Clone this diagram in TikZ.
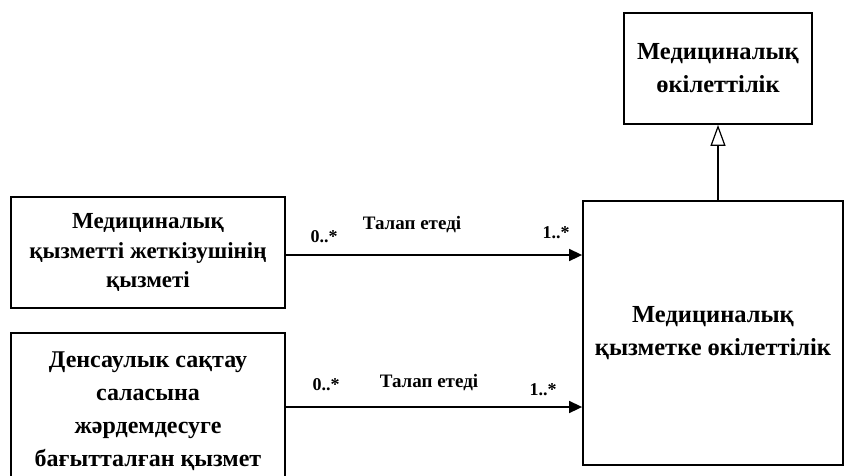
\documentclass[tikz,border=0pt]{standalone}
\usepackage{fontspec}
\setmainfont{Liberation Serif}
\usetikzlibrary{arrows.meta}
\tikzset{
  box/.style={draw, line width=1.8pt, rectangle, align=center, inner sep=0pt,
    font=\fontsize{24.5}{33}\selectfont\bfseries},
  assoc/.style={line width=1.6pt, -{Triangle[length=13pt,width=12pt]}},
  gen/.style={line width=1.2pt, -{Triangle[open,length=21pt,width=15pt,line width=1.2pt]}},
  lbl/.style={font=\fontsize{19}{22}\selectfont\bfseries, inner sep=0pt},
  mult/.style={font=\fontsize{18}{22}\selectfont\bfseries, inner sep=0pt}
}
\begin{document}
\begin{tikzpicture}[x=1pt,y=-1pt]
\useasboundingbox (0,0) rectangle (847,475);
\begin{scope}
\clip (0,0) rectangle (847,475);
\node[box, minimum width=188pt, minimum height=111pt] (top) at (718,68.5)
  {Медициналық\\өкілеттілік};
\node[box, minimum width=260pt, minimum height=264pt] (big) at (713,333)
  {Медициналық\\қызметке өкілеттілік};
\node[box, minimum width=274pt, minimum height=111pt,
  font=\fontsize{23}{29.5}\selectfont\bfseries] (b1) at (148,252.5)
  {Медициналық\\қызметті жеткізушінің\\қызметі};
\node[box, minimum width=274pt, minimum height=157pt,
  font=\fontsize{24}{33}\selectfont\bfseries] (b2) at (148,411.5)
  {Денсаулык сақтау\\саласына\\жәрдемдесуге\\бағытталған қызмет};
\end{scope}
\draw[assoc] ([yshift=-2.5pt]b1.east) -- ([yshift=-2.5pt]b1.east -| big.west);
\draw[assoc] ([yshift=4.5pt]b2.east) -- ([yshift=4.5pt]b2.east -| big.west);
\draw[gen] (big.north -| top.south) -- (top.south);
\node[mult] (m1a) at (324,237) {0..*};
\node[lbl] (l1) at (412,225) {Талап етеді};
\node[mult] (m1b) at (556,233) {1..*};
\node[mult] (m2a) at (326,385) {0..*};
\node[lbl] (l2) at (429,383) {Талап етеді};
\node[mult] (m2b) at (543,390) {1..*};
\end{tikzpicture}
\end{document}
